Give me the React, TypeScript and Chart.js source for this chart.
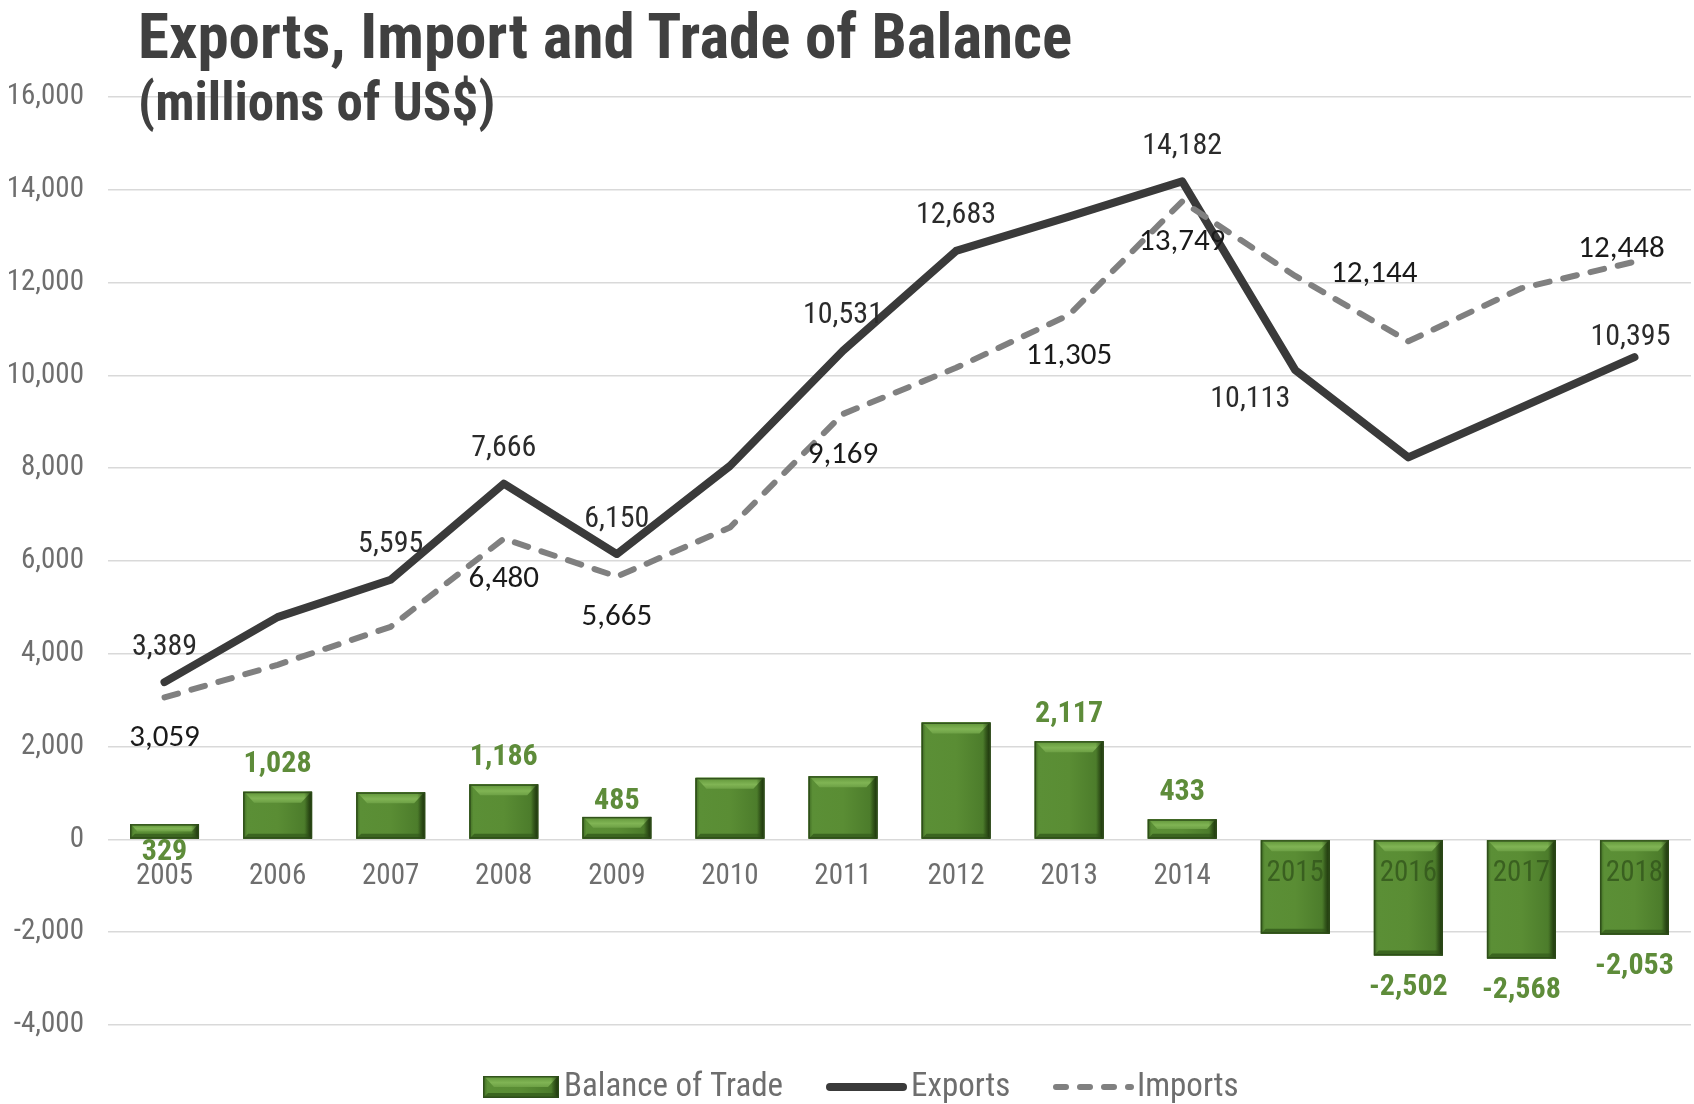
import React, { useEffect, useRef } from 'react';
import { Chart, registerables } from 'chart.js';

Chart.register(...registerables);

const years = ['2005', '2006', '2007', '2008', '2009', '2010', '2011', '2012', '2013', '2014', '2015', '2016', '2017', '2018'];
const exportsValues = [3389, 4791, 5595, 7666, 6150, 8047, 10531, 12683, 13422, 14182, 10113, 8233, 9310, 10395];
const importsValues = [3059, 3763, 4581, 6480, 5665, 6721, 9169, 10163, 11305, 13749, 12144, 10735, 11878, 12448];
const balanceValues = [329, 1028, 1014, 1186, 485, 1326, 1362, 2520, 2117, 433, -2031, -2502, -2568, -2053];
const yTickValues = [-4000, -2000, 0, 2000, 4000, 6000, 8000, 10000, 12000, 14000, 16000];

// which points carry a value label, and where it sits relative to the point
const exportsLabels: Record<number, string> = { 0: 'top', 2: 'top', 3: 'top', 4: 'top', 6: 'top', 7: 'top', 9: 'top', 10: 'bottomLeft', 13: 'topNear' };
const importsLabels: Record<number, string> = { 0: 'bottom', 3: 'bottom', 4: 'bottom', 6: 'bottom', 8: 'bottom', 9: 'bottom', 10: 'right', 13: 'topLeft' };
const balanceLabels: Record<number, string> = { 0: 'base', 1: 'top', 3: 'top', 4: 'topNear', 8: 'top', 9: 'top', 11: 'bottom', 12: 'bottom', 13: 'bottom' };

const NARROW = '"Roboto Condensed", "DejaVu Sans Condensed", "Liberation Sans", sans-serif';
const ROUND = 'Carlito, Calibri, Lato, "Open Sans", sans-serif';
const AXIS_GRAY = '#6e6e6e';

const fmt = (v: number) => v.toLocaleString('en-US');

function labelOffset(anchor: string): [number, number] {
  switch (anchor) {
    case 'top': return [0, -35];
    case 'topNear': return [-4, -20];
    case 'topLeft': return [-13, -13];
    case 'bottom': return [0, 41];
    case 'bottomLeft': return [-45, 29];
    case 'right': return [79, -2];
    default: return [0, 0];
  }
}

const valueLabelPlugin = {
  id: 'valueLabels',
  afterDatasetsDraw(chart: any) {
    const ctx = chart.ctx as CanvasRenderingContext2D;
    ctx.save();
    ctx.textAlign = 'center';
    ctx.textBaseline = 'middle';
    const barMeta = chart.getDatasetMeta(0);
    barMeta.data.forEach((el: any, i: number) => {
      const anchor = balanceLabels[i];
      if (!anchor) return;
      const v = balanceValues[i];
      const top = Math.min(el.y, el.base);
      const bottom = Math.max(el.y, el.base);
      let y = 0;
      if (anchor === 'base') y = el.base + 14;
      else if (anchor === 'top') y = top - 27;
      else if (anchor === 'topNear') y = top - 15;
      else y = bottom + 32;
      ctx.font = `bold 30px ${NARROW}`;
      ctx.fillStyle = '#5e8c3a';
      ctx.fillText(fmt(v), el.x, y);
    });
    const lineSets: [number, Record<number, string>, number[], string, string][] = [
      [1, exportsLabels, exportsValues, `30px ${NARROW}`, '#2b2b2b'],
      [2, importsLabels, importsValues, `31px ${ROUND}`, '#1a1a1a'],
    ];
    for (const [di, labels, values, font, color] of lineSets) {
      const meta = chart.getDatasetMeta(di);
      meta.data.forEach((pt: any, i: number) => {
        const anchor = labels[i];
        if (!anchor) return;
        const [dx, dy] = labelOffset(anchor);
        ctx.font = font;
        ctx.fillStyle = color;
        ctx.fillText(fmt(values[i]), pt.x + dx, pt.y + dy);
      });
    }
    ctx.restore();
  },
};

function bevelRect(ctx: CanvasRenderingContext2D, l: number, t: number, w: number, h: number) {
  const r = l + w;
  const b = t + h;
  const g = ctx.createLinearGradient(l, 0, r, 0);
  g.addColorStop(0, '#3e6a22');
  g.addColorStop(0.06, '#5b8f36');
  g.addColorStop(0.5, '#5a8d34');
  g.addColorStop(0.9, '#4c7c2b');
  g.addColorStop(1, '#2a4a14');
  ctx.fillStyle = g;
  ctx.fillRect(l, t, w, h);
  const bv = Math.min(11, h / 2);
  const gt = ctx.createLinearGradient(0, t, 0, t + bv);
  gt.addColorStop(0, '#5f9438');
  gt.addColorStop(0.6, '#80b454');
  gt.addColorStop(1, '#6da045');
  ctx.fillStyle = gt;
  ctx.beginPath();
  ctx.moveTo(l + 1, t); ctx.lineTo(r - 1, t); ctx.lineTo(r - bv, t + bv); ctx.lineTo(l + bv, t + bv); ctx.closePath();
  ctx.fill();
  const bb = Math.min(5, h / 3);
  ctx.fillStyle = '#3b6520';
  ctx.beginPath();
  ctx.moveTo(l, b); ctx.lineTo(r, b); ctx.lineTo(r - bb, b - bb); ctx.lineTo(l + bb, b - bb); ctx.closePath();
  ctx.fill();
  const gr = ctx.createLinearGradient(r - 8, 0, r, 0);
  gr.addColorStop(0, 'rgba(40,70,20,0)');
  gr.addColorStop(1, 'rgba(25,45,10,0.85)');
  ctx.fillStyle = gr;
  ctx.fillRect(r - 8, t, 8, h);
  ctx.strokeStyle = 'rgba(45,75,25,0.9)';
  ctx.lineWidth = 1.5;
  ctx.strokeRect(l + 0.75, t + 0.75, w - 1.5, h - 1.5);
}

const bevelPlugin = {
  id: 'bevelBars',
  afterDatasetDraw(chart: any, args: any) {
    if (args.index !== 0) return;
    const ctx = chart.ctx as CanvasRenderingContext2D;
    const xScale = chart.scales.x;
    ctx.save();
    args.meta.data.forEach((el: any, i: number) => {
      const w = el.width;
      const l = el.x - w / 2;
      const t = Math.min(el.y, el.base);
      const b = Math.max(el.y, el.base);
      const h = b - t;
      if (h <= 0) return;
      bevelRect(ctx, l, t, w, h);
      if (balanceValues[i] < 0) {
        ctx.save();
        ctx.beginPath();
        ctx.rect(l, t, w, h);
        ctx.clip();
        ctx.font = `29px ${NARROW}`;
        ctx.textAlign = 'center';
        ctx.textBaseline = 'top';
        ctx.fillStyle = 'rgba(50, 85, 28, 0.8)';
        const zeroY = chart.scales.y.getPixelForValue(0);
        ctx.fillText(years[i], xScale.getPixelForValue(i), zeroY + 20);
        ctx.restore();
      }
    });
    ctx.restore();
  },
};

const legendPlugin = {
  id: 'customLegend',
  afterDraw(chart: any) {
    const ctx = chart.ctx as CanvasRenderingContext2D;
    ctx.save();
    const cy = 1087;
    bevelRect(ctx, 483, cy - 11, 76, 22);
    ctx.font = `33px ${NARROW}`;
    ctx.fillStyle = AXIS_GRAY;
    ctx.textBaseline = 'middle';
    ctx.textAlign = 'left';
    ctx.fillText('Balance of Trade', 564, cy + 1);
    ctx.strokeStyle = '#3a3a3a';
    ctx.lineWidth = 8;
    ctx.lineCap = 'round';
    ctx.beginPath(); ctx.moveTo(830, cy); ctx.lineTo(903, cy); ctx.stroke();
    ctx.fillText('Exports', 911, cy + 1);
    ctx.strokeStyle = '#808080';
    ctx.lineWidth = 6;
    ctx.setLineDash([10, 14]);
    ctx.beginPath(); ctx.moveTo(1056, cy); ctx.lineTo(1131, cy); ctx.stroke();
    ctx.setLineDash([]);
    ctx.fillText('Imports', 1137, cy + 1);
    ctx.restore();
  },
};

export default function App() {
  const canvasRef = useRef<HTMLCanvasElement | null>(null);

  useEffect(() => {
    document.body.style.margin = '0';
    const canvas = canvasRef.current!;
    const chart = new Chart(canvas, {
      type: 'bar',
      data: {
        labels: years,
        datasets: [
          {
            type: 'bar',
            label: 'Balance of Trade',
            data: balanceValues,
            backgroundColor: '#5a8d34',
            borderWidth: 0,
            barPercentage: 0.61,
            categoryPercentage: 1,
            order: 2,
          },
          {
            type: 'line',
            label: 'Exports',
            data: exportsValues,
            borderColor: '#3a3a3a',
            borderWidth: 8,
            pointRadius: 0,
            tension: 0,
            fill: false,
            borderJoinStyle: 'round',
            borderCapStyle: 'round',
            order: 1,
          },
          {
            type: 'line',
            label: 'Imports',
            data: importsValues,
            borderColor: '#808080',
            borderWidth: 6,
            borderDash: [14, 14],
            borderCapStyle: 'round',
            borderJoinStyle: 'round',
            pointRadius: 0,
            tension: 0,
            fill: false,
            order: 0,
          },
        ],
      },
      options: {
        responsive: false,
        animation: false,
        devicePixelRatio: 1,
        layout: { padding: { top: 97, bottom: 79, left: 0, right: 3 } },
        plugins: {
          legend: { display: false },
          tooltip: { enabled: false },
          title: { display: false },
        },
        scales: {
          x: {
            type: 'category',
            position: { y: 0 } as any,
            offset: true,
            grid: { display: false, drawTicks: false },
            border: { display: false },
            ticks: {
              color: AXIS_GRAY,
              font: { family: NARROW, size: 29 },
              padding: 20,
              maxRotation: 0,
              autoSkip: false,
            },
          },
          y: {
            type: 'linear',
            min: -4000,
            max: 16000,
            afterBuildTicks: (s: any) => {
              s.ticks = yTickValues.map((v) => ({ value: v }));
            },
            afterFit: (s: any) => {
              s.width = 108;
            },
            grid: { color: '#d9d9d9', lineWidth: 1.5, drawTicks: false },
            border: { display: false },
            ticks: {
              color: AXIS_GRAY,
              font: { family: NARROW, size: 29 },
              padding: 24,
              callback: (v: any) => fmt(Number(v)),
            },
          },
        },
      },
      plugins: [bevelPlugin, valueLabelPlugin, legendPlugin],
    });
    return () => chart.destroy();
  }, []);

  const titleFont = '"Roboto Condensed", "DejaVu Sans Condensed", "Liberation Sans", sans-serif';

  return (
    <div style={{ position: 'relative', width: 1694, height: 1104, background: '#ffffff', overflow: 'hidden' }}>
      <canvas ref={canvasRef} width={1694} height={1104} style={{ position: 'absolute', left: 0, top: 0, width: 1694, height: 1104 }} />
      <div style={{ position: 'absolute', left: 138, top: 5, fontFamily: titleFont, fontWeight: 'bold', fontSize: 63, lineHeight: '63px', color: '#404040', whiteSpace: 'nowrap' }}>
        Exports, Import and Trade of Balance
      </div>
      <div style={{ position: 'absolute', left: 138, top: 76, fontFamily: titleFont, fontWeight: 'bold', fontSize: 53, lineHeight: '53px', color: '#404040', whiteSpace: 'nowrap' }}>
        (millions of US$)
      </div>
    </div>
  );
}
